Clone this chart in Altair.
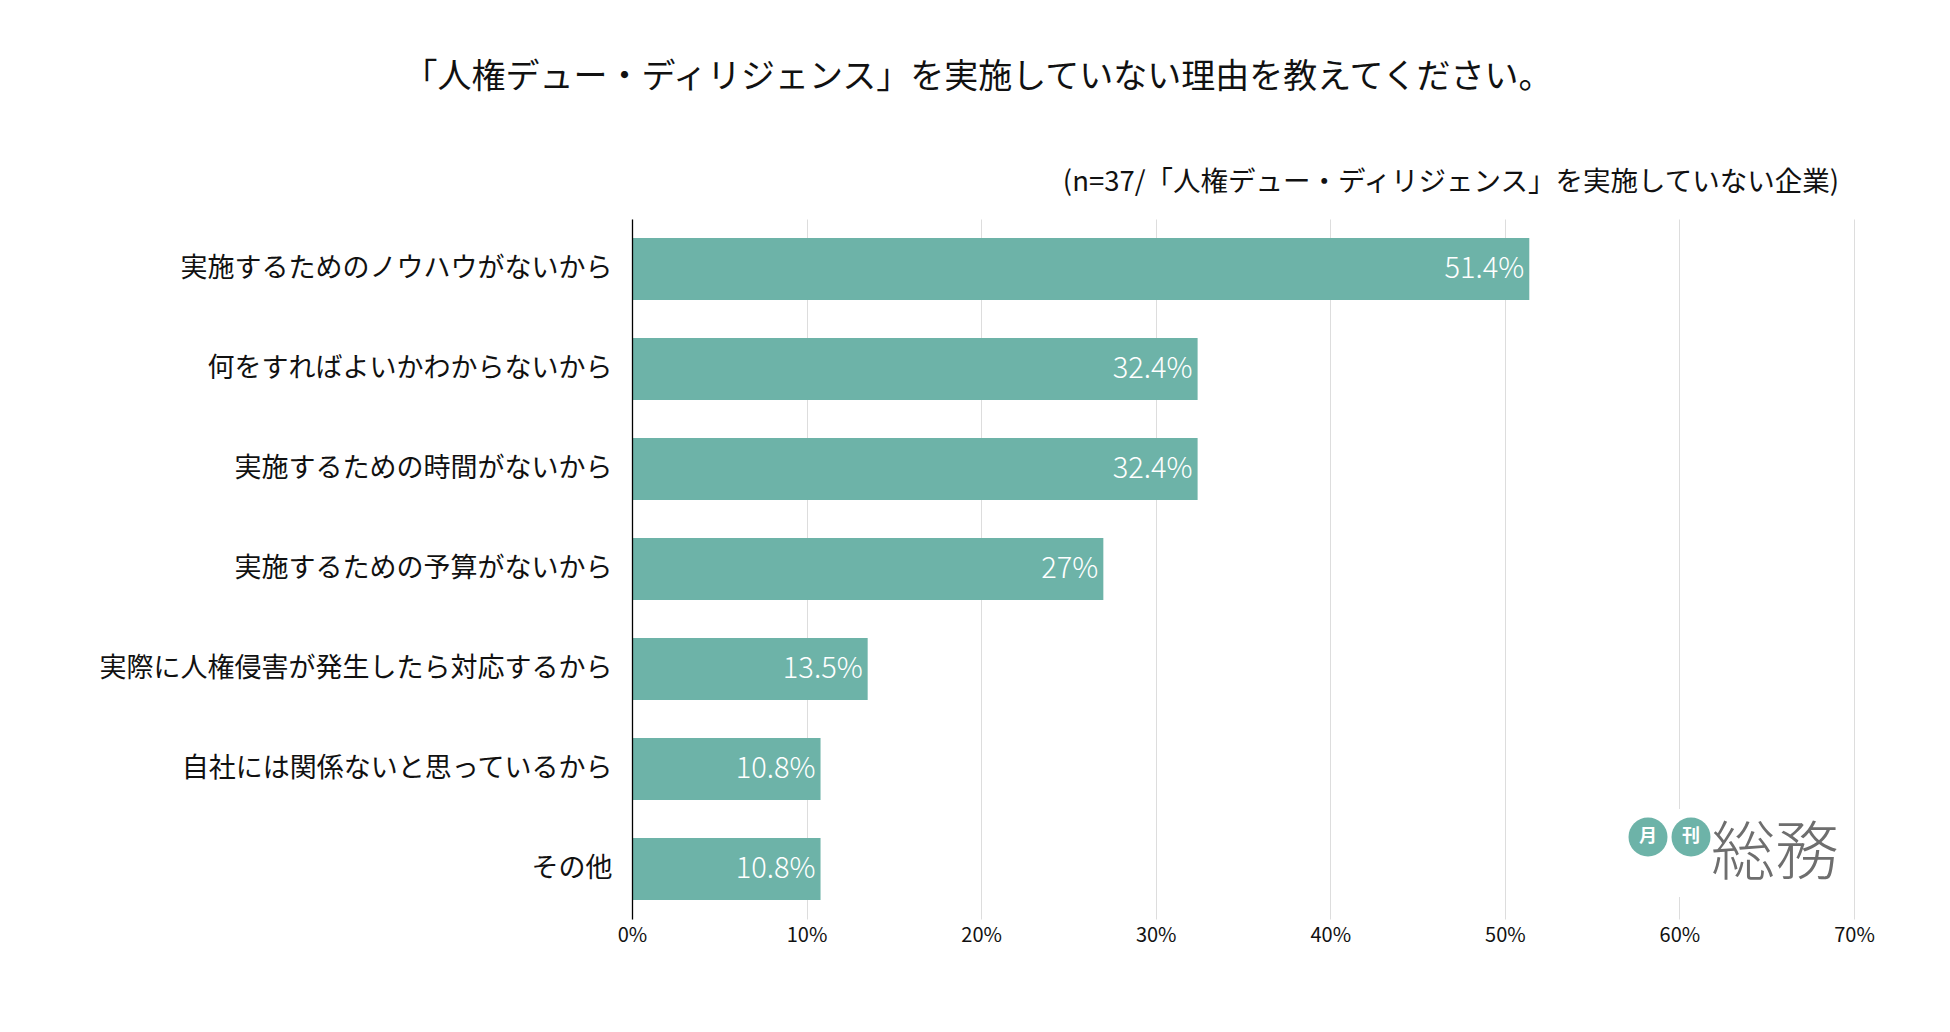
import altair as alt
import pandas as pd

categories = [
    "実施するためのノウハウがないから",
    "何をすればよいかわからないから",
    "実施するための時間がないから",
    "実施するための予算がないから",
    "実際に人権侵害が発生したら対応するから",
    "自社には関係ないと思っているから",
    "その他",
]
values = [51.4, 32.4, 32.4, 27, 13.5, 10.8, 10.8]
value_labels = ["51.4%", "32.4%", "32.4%", "27%", "13.5%", "10.8%", "10.8%"]
x_ticks = [0, 10, 20, 30, 40, 50, 60, 70]
title_text = "「人権デュー・ディリジェンス」を実施していない理由を教えてください。"
subtitle_text = "(n=37/「人権デュー・ディリジェンス」を実施していない企業)"
logo_circles = ["月", "刊"]
logo_word = "総務"

FONT = "Noto Sans CJK JP"
BAR = "#6db3a8"

df = pd.DataFrame({"category": categories, "value": values, "label": value_labels})

y_enc = alt.Y(
    "category:N",
    sort=categories,
    scale=alt.Scale(paddingInner=0.38, paddingOuter=0.19),
    axis=alt.Axis(
        title=None, domain=True, domainColor="#000000", domainWidth=1.3,
        ticks=False, labelFontSize=27, labelPadding=20, labelLimit=800,
        labelColor="#111111", labelFont=FONT, zindex=1,
    ),
)
x_enc = alt.X(
    "value:Q",
    scale=alt.Scale(domain=[0, 70], nice=False, zero=True),
    axis=alt.Axis(
        title=None, values=x_ticks, labelExpr="datum.value + '%'",
        grid=True, gridColor="#dddddd", gridWidth=1, domain=False, ticks=False,
        labelFontSize=20, labelPadding=6, labelColor="#111111", labelFont=FONT,
        labelFlush=False,
    ),
)

bars = alt.Chart(df).mark_bar(color=BAR).encode(x=x_enc, y=y_enc)

labels = alt.Chart(df).mark_text(
    align="right", baseline="middle", dx=-5, color="white", fontSize=29,
    fontWeight=300, font=FONT
).encode(x="value:Q", y=alt.Y("category:N", sort=categories), text="label:N")

title = alt.Chart(pd.DataFrame({"t": [title_text]})).mark_text(
    align="center", baseline="middle", fontSize=34, font=FONT, color="#111111"
).encode(x=alt.value(346), y=alt.value(-141), text="t:N")

subtitle = alt.Chart(pd.DataFrame({"t": [subtitle_text]})).mark_text(
    align="right", baseline="middle", fontSize=27.5, font=FONT, color="#111111"
).encode(x=alt.value(1207), y=alt.value(-36), text="t:N")

logo_bg = alt.Chart(pd.DataFrame({"a": [1]})).mark_rect(color="white").encode(
    x=alt.value(990), x2=alt.value(1212), y=alt.value(590), y2=alt.value(678)
)

circ_df = pd.DataFrame({"t": logo_circles, "px": [1016, 1059]})
circles = alt.Chart(circ_df).mark_circle(color=BAR, opacity=1, size=1521).encode(
    x=alt.X("px:Q", scale=None), y=alt.value(618)
)
circle_text = alt.Chart(circ_df).mark_text(
    color="white", fontSize=18, fontWeight="bold", font=FONT, baseline="middle", align="center"
).encode(x=alt.X("px:Q", scale=None), y=alt.value(618), text="t:N")

logo_text = alt.Chart(pd.DataFrame({"t": [logo_word]})).mark_text(
    color="#6e6e6e", fontSize=64, fontWeight=300, font=FONT, baseline="middle", align="center"
).encode(x=alt.value(1143), y=alt.value(636), text="t:N")

chart = alt.layer(
    bars, labels, title, subtitle, logo_bg, circles, circle_text, logo_text
).properties(
    width=1222,
    height=700,
    autosize=alt.AutoSizeParams(type="none"),
    padding={"left": 624, "top": 211, "right": 80, "bottom": 100},
).configure(font=FONT).configure_view(stroke=None)

chart.save("out.html", embed_options={"renderer": "svg", "actions": False})
